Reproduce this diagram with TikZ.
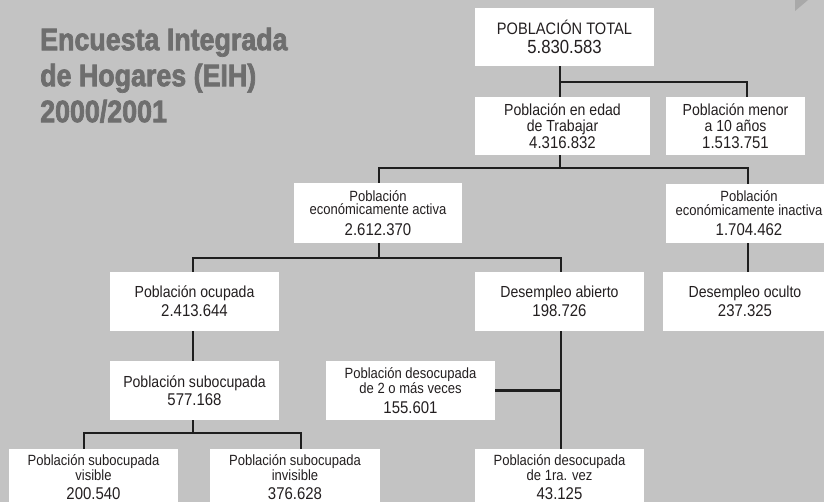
\documentclass[tikz,border=0pt]{standalone}
\usepackage{fontspec}
\newfontfamily\bodyf[FakeStretch=0.88]{Liberation Sans}
\newfontfamily\titlef[FakeStretch=0.865,FakeBold=2.2]{Liberation Sans}
\definecolor{bg}{HTML}{C3C3C3}
\definecolor{ln}{HTML}{1E1E1E}
\definecolor{tx}{HTML}{231F20}
\definecolor{ttl}{HTML}{6E6E6E}
\definecolor{tri}{HTML}{A9A9A9}
\newcommand\nm[1]{{\fontsize{17}{17}\selectfont #1}}
\begin{document}
\begin{tikzpicture}[x=1pt,y=-1pt,
  box/.style={fill=white, inner sep=0pt, align=center, text=tx},
  twol/.style={box, font=\bodyf\fontsize{16}{19}\selectfont, minimum width=169pt, minimum height=59pt},
  midl/.style={box, font=\bodyf\fontsize{16}{16.5}\selectfont, minimum height=58pt},
  smalll/.style={box, font=\bodyf\fontsize{14.8}{13.5}\selectfont, minimum width=169pt, minimum height=60pt},
  conn/.style={draw=ln, line width=2.9pt, line join=miter}]
\path[use as bounding box] (0,0) rectangle (824,502);
\fill[bg] (0,0) rectangle (824,502);
\clip (0,0) rectangle (824,502);
\fill[tri] (795,0) -- (808,0) -- (795,11) -- cycle;

\node[anchor=north west, align=left, text=ttl, inner sep=0pt,
  font=\titlef\bfseries\fontsize{31}{36}\selectfont] (title) at (40,27.5)
  {Encuesta Integrada\\de Hogares (EIH)\\2000/2001};

% boxes
\node[twol, minimum width=179pt, minimum height=58pt, font=\bodyf\fontsize{16.6}{18.5}\selectfont] (total) at (564.5,37) {POBLACIÓN TOTAL\\{\fontsize{19}{19}\selectfont 5.830.583}};
\node[midl, minimum width=175pt] (edad) at (562.5,126) {Población en edad\\de Trabajar\\\nm{4.316.832}};
\node[midl, minimum width=139pt] (menor) at (735.5,126) {Población menor\\a 10 años\\\nm{1.513.751}};
\node[smalll, minimum width=168pt] (activa) at (378,213) {Población\\económicamente activa\\[7pt]\nm{2.612.370}};
\node[smalll, minimum width=166pt, minimum height=59pt] (inactiva) at (749,213.5) {Población\\económicamente inactiva\\[7pt]\nm{1.704.462}};
\node[twol] (ocupada) at (194.5,301.5) {Población ocupada\\\nm{2.413.644}};
\node[twol] (abierto) at (559.5,301.5) {Desempleo abierto\\\nm{198.726}};
\node[twol, minimum width=164pt] (oculto) at (745,301.5) {Desempleo oculto\\\nm{237.325}};
\node[twol, font=\bodyf\fontsize{16}{18}\selectfont] (subocupada) at (194.5,390.5) {Población subocupada\\\nm{577.168}};
\node[smalll, minimum height=59pt] (dos) at (410.5,390.5) {Población desocupada\\de 2 o más veces\\[7pt]\nm{155.601}};
\node[smalll, minimum height=56pt] (visible) at (93.5,477) {Población subocupada\\visible\\[5pt]\nm{200.540}};
\node[smalll, minimum height=56pt, minimum width=170pt] (invisible) at (295,477) {Población subocupada\\invisible\\[5pt]\nm{376.628}};
\node[smalll, minimum height=56pt] (primera) at (559.5,477) {Población desocupada\\de 1ra. vez\\[5pt]\nm{43.125}};

% junction coordinates
\coordinate (t1) at (560,82);
\coordinate (t2) at (747,82);
\coordinate (e1) at (560,168);
\coordinate (e2) at (379,168);
\coordinate (e3) at (748,168);
\coordinate (a1) at (379,258);
\coordinate (a2) at (193,258);
\coordinate (a3) at (561,258);
\coordinate (s1) at (193,433);
\coordinate (s2) at (84,433);
\coordinate (s3) at (301,433);

% connectors
\draw[conn] (total.south -| t1) -- (edad.north -| t1);
\draw[conn] (t1) -- (t2) -- (t2 |- menor.north);
\draw[conn] (edad.south -| e1) -- (e1);
\draw[conn] (e2 |- activa.north) -- (e2) -- (e3) -- (e3 |- inactiva.north);
\draw[conn] (activa.south -| a1) -- (a1);
\draw[conn] (a2 |- ocupada.north) -- (a2) -- (a3) -- (a3 |- abierto.north);
\draw[conn] (inactiva.south -| e3) -- (oculto.north -| e3);
\draw[conn] (ocupada.south -| a2) -- (subocupada.north -| a2);
\draw[conn] (subocupada.south -| s1) -- (s1);
\draw[conn] (s2 |- visible.north) -- (s2) -- (s3) -- (s3 |- invisible.north);
\draw[conn] (abierto.south -| a3) -- (primera.north -| a3);
\draw[conn] (dos.east) -- (dos.east -| a3);
\end{tikzpicture}
\end{document}
